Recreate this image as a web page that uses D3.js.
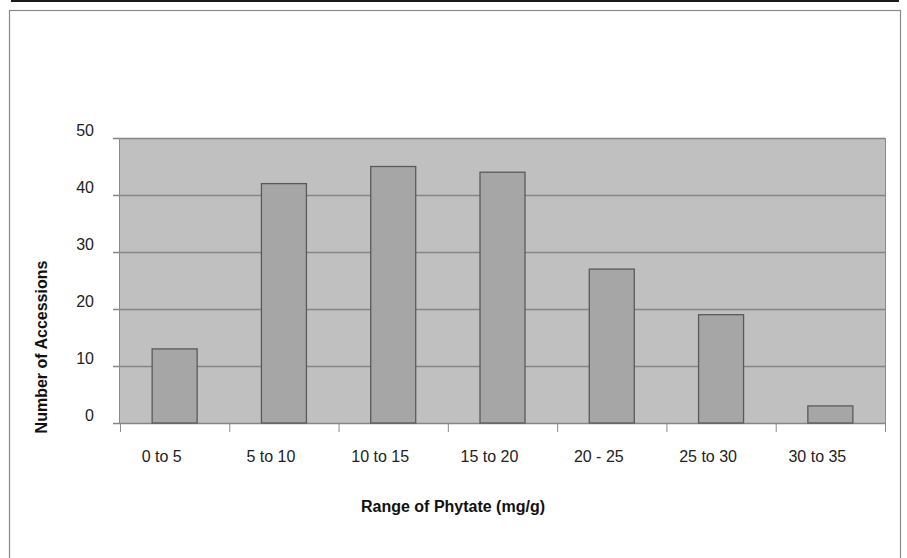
<!DOCTYPE html>
<html>
<head>
<meta charset="utf-8">
<script src="https://cdn.jsdelivr.net/npm/d3@7"></script>
<style>
  body { margin: 0; background: #fff; }
  svg { display: block; font-family: "Liberation Sans", Arial, sans-serif; }
</style>
</head>
<body>
<div id="chart"></div>
<script>
// phytate ranges and how many accessions fall in each
const ranges = ["0 to 5", "5 to 10", "10 to 15", "15 to 20", "20 - 25", "25 to 30", "30 to 35"];
const accessions = [13, 42, 45, 44, 27, 19, 3];
const yTicks = [0, 10, 20, 30, 40, 50];

const width = 907, height = 558;
const plot = {left: 120, right: 885, top: 138, bottom: 423};

const svg = d3.select('#chart').append('svg')
  .attr('width', width)
  .attr('height', height);

// top rule and the outer frame
svg.append('line')
  .attr('x1', 11).attr('x2', 899).attr('y1', 1).attr('y2', 1)
  .attr('stroke', '#1a1a1a').attr('stroke-width', 2);
svg.append('rect')
  .attr('x', 9.5).attr('y', 10.5).attr('width', 891).attr('height', 560)
  .attr('fill', 'none').attr('stroke', '#8a8a8a').attr('stroke-width', 1.2);

const x = d3.scaleBand().domain(ranges).range([plot.left, plot.right]).paddingInner(0).paddingOuter(0);
const y = d3.scaleLinear().domain([0, 50]).range([plot.bottom, plot.top]);

// plot background
svg.append('rect')
  .attr('x', plot.left).attr('y', plot.top)
  .attr('width', plot.right - plot.left).attr('height', plot.bottom - plot.top)
  .attr('fill', '#c0c0c0');

// gridlines
svg.append('g').selectAll('line')
  .data(yTicks)
  .join('line')
  .attr('x1', plot.left - 7).attr('x2', plot.right)
  .attr('y1', d => y(d) + 0.5).attr('y2', d => y(d) + 0.5)
  .attr('stroke', '#858585').attr('stroke-width', 1.3);

// right edge of plot and left axis line
svg.append('line')
  .attr('x1', plot.right + 0.5).attr('x2', plot.right + 0.5)
  .attr('y1', plot.top).attr('y2', plot.bottom)
  .attr('stroke', '#8a8a8a');
svg.append('line')
  .attr('x1', plot.left - 0.5).attr('x2', plot.left - 0.5)
  .attr('y1', plot.top).attr('y2', plot.bottom)
  .attr('stroke', '#8a8a8a');

// bars
const barW = 45;
svg.append('g').selectAll('rect')
  .data(accessions)
  .join('rect')
  .attr('x', (d, i) => x(ranges[i]) + x.bandwidth() / 2 - barW / 2)
  .attr('y', d => y(d))
  .attr('width', barW)
  .attr('height', d => y(0) - y(d))
  .attr('fill', '#a6a6a6')
  .attr('stroke', '#5a5a5a')
  .attr('stroke-width', 1.3);

// x ticks at band edges
const edges = ranges.map(r => x(r)).concat([plot.right]);
svg.append('g').selectAll('line')
  .data(edges)
  .join('line')
  .attr('x1', d => d + 0.5).attr('x2', d => d + 0.5)
  .attr('y1', plot.bottom).attr('y2', plot.bottom + 9)
  .attr('stroke', '#8a8a8a');

// y tick labels (sit a little above the gridline)
svg.append('g').selectAll('text')
  .data(yTicks)
  .join('text')
  .attr('x', 94)
  .attr('y', d => y(d) - 2)
  .attr('text-anchor', 'end')
  .attr('font-size', 16)
  .attr('fill', '#222')
  .text(d => d);

// x tick labels
svg.append('g').selectAll('text')
  .data(ranges)
  .join('text')
  .attr('x', d => x(d) + x.bandwidth() / 2 - 13)
  .attr('y', 462)
  .attr('text-anchor', 'middle')
  .attr('font-size', 16)
  .attr('fill', '#222')
  .text(d => d);

// axis titles
svg.append('text')
  .attr('x', 453).attr('y', 512)
  .attr('text-anchor', 'middle')
  .attr('font-size', 16).attr('font-weight', 'bold')
  .attr('fill', '#111')
  .text('Range of Phytate (mg/g)');

svg.append('text')
  .attr('transform', 'translate(47,347) rotate(-90)')
  .attr('text-anchor', 'middle')
  .attr('font-size', 16).attr('font-weight', 'bold')
  .attr('fill', '#111')
  .text('Number of Accessions');
</script>
</body>
</html>
